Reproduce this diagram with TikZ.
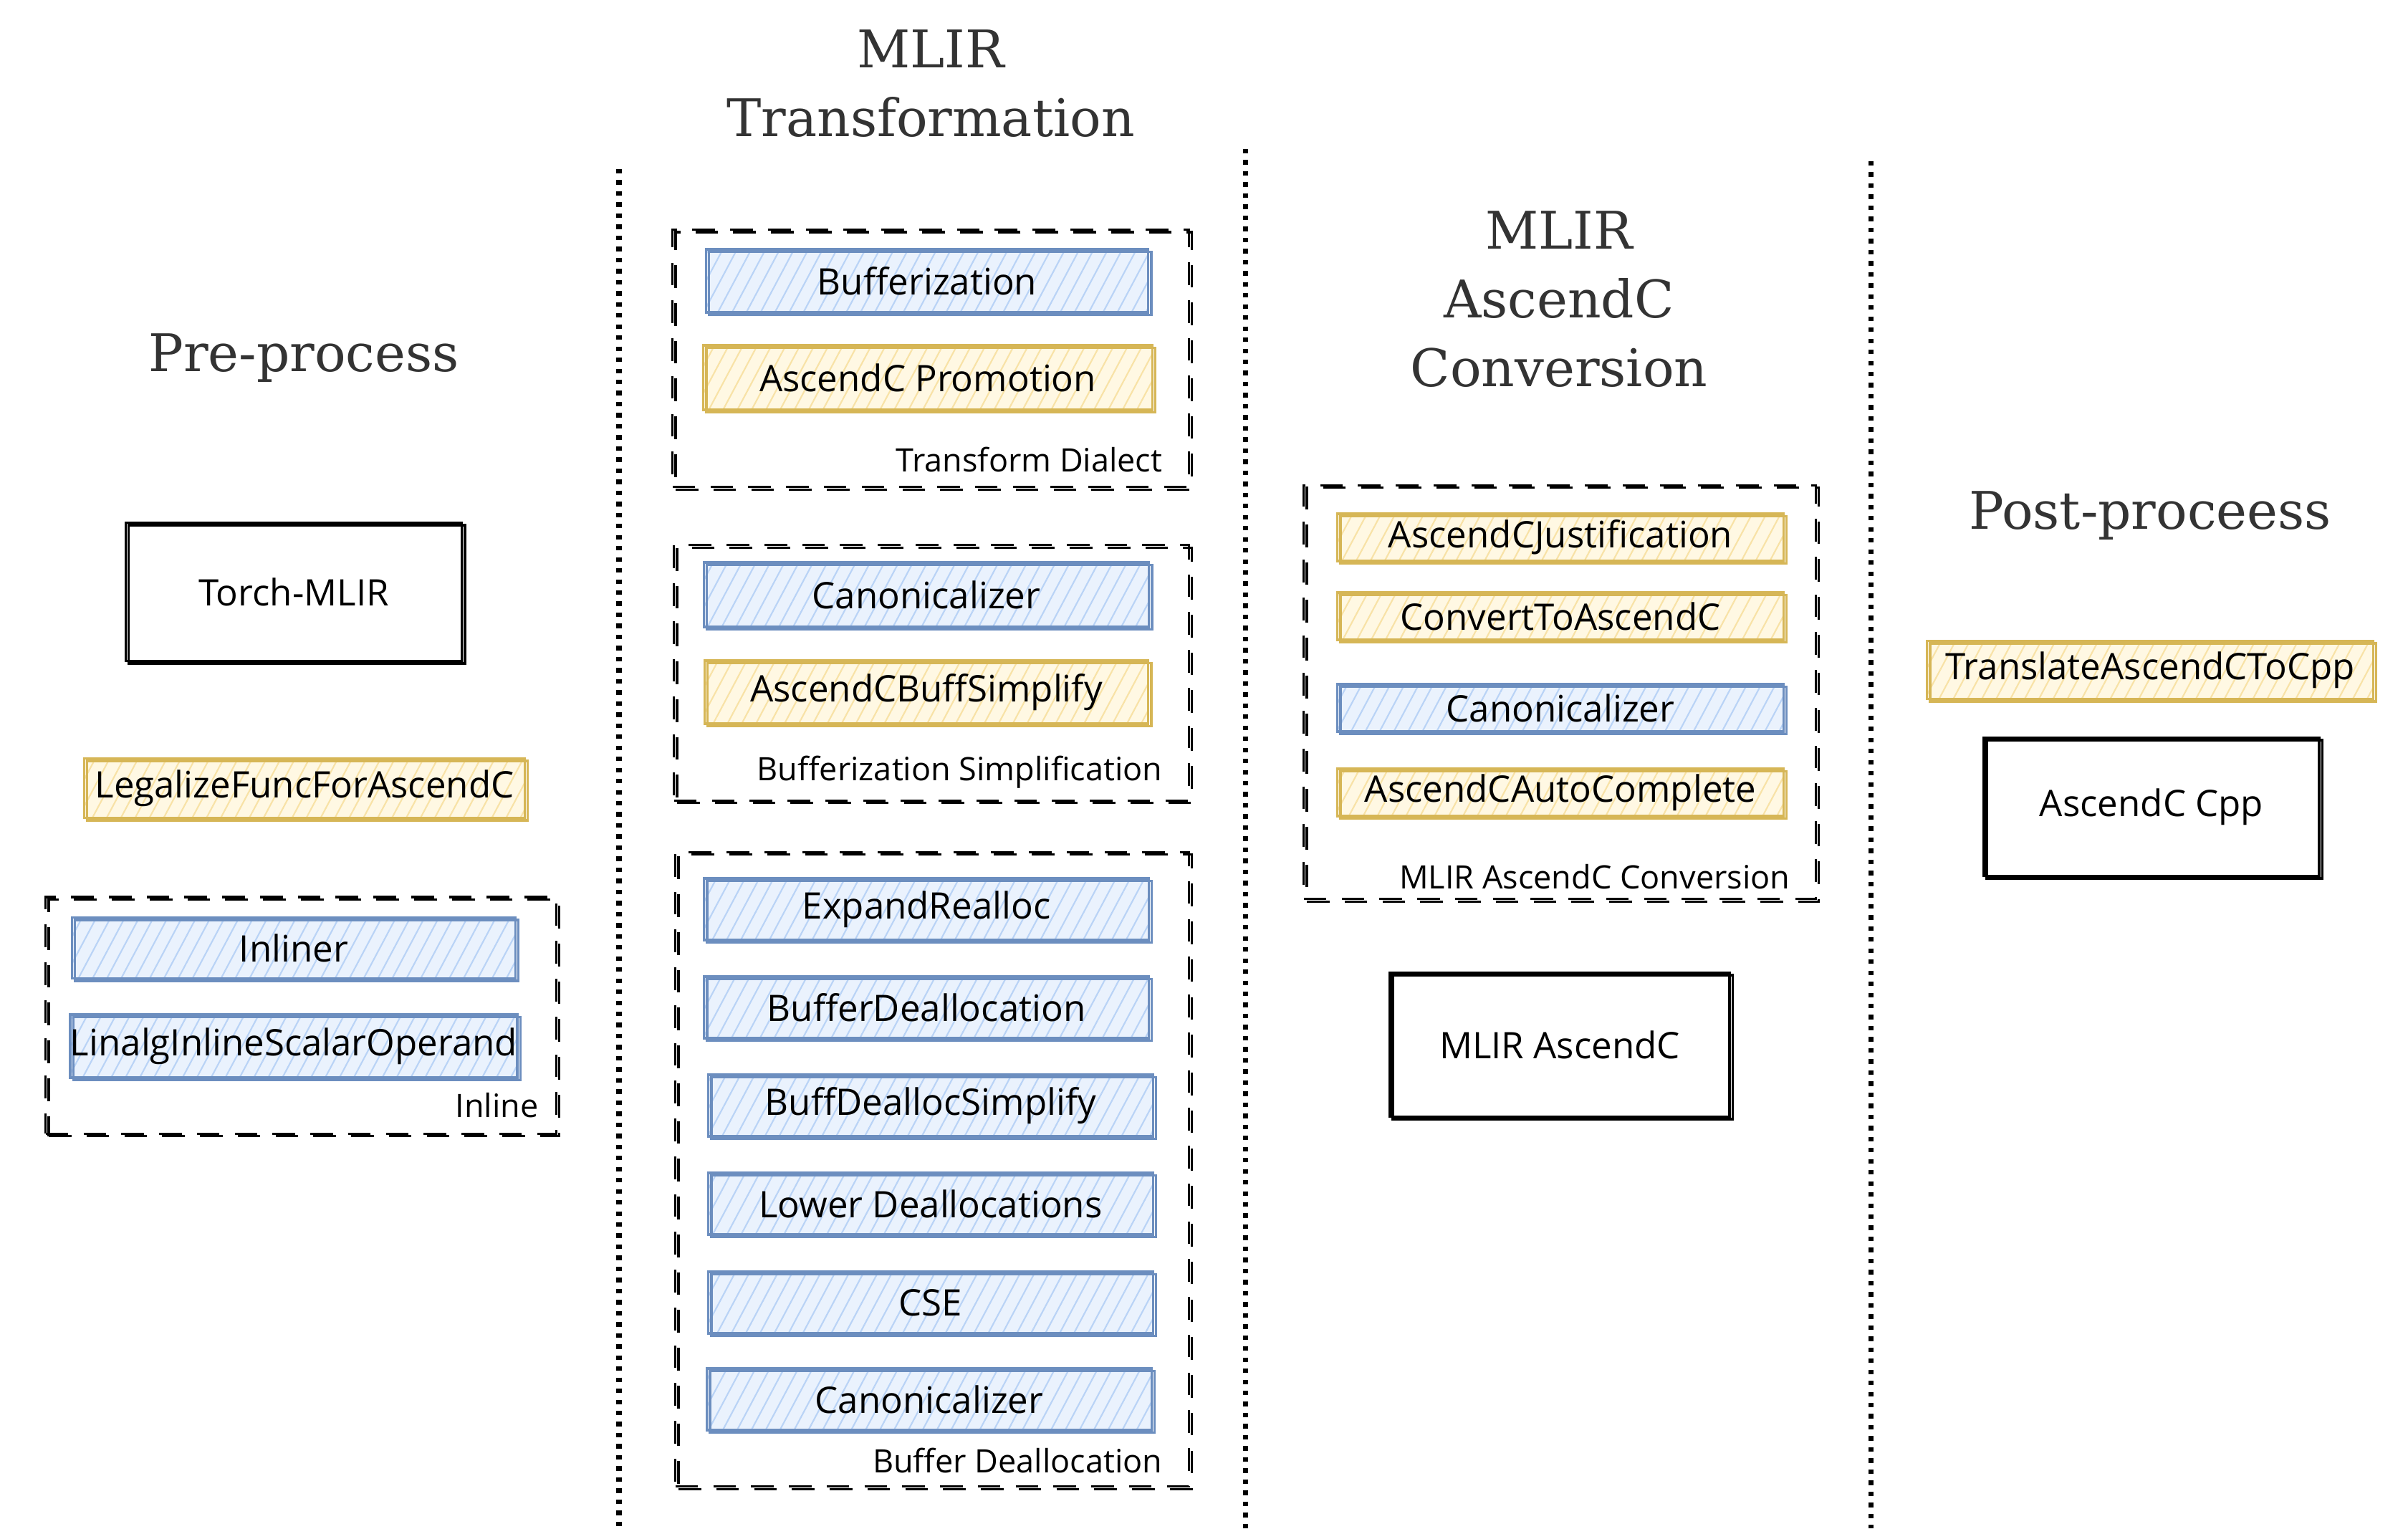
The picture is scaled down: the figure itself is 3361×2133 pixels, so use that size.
\documentclass[tikz,border=0pt]{standalone}
\usepackage{fontspec}
\setmainfont{DejaVu Serif}
\newfontfamily\passfont{Open Sans}
\usetikzlibrary{patterns.meta}
\definecolor{bstroke}{HTML}{6C8EBF}
\definecolor{bfill}{HTML}{EAF2FD}
\definecolor{bhatch}{HTML}{B9D3F6}
\definecolor{ystroke}{HTML}{D6B656}
\definecolor{yfill}{HTML}{FFF8E3}
\definecolor{yhatch}{HTML}{F8E2A6}
\definecolor{titlegray}{HTML}{333333}
\tikzset{
  sk/.style={postaction={draw,transform canvas={shift={(1.2pt,-1pt)}}}},
  passbase/.style={line width=0.9pt, inner sep=0pt, font=\passfont\fontsize{14.5}{16}\selectfont, sk},
  bluepass/.style={passbase, draw=bstroke, preaction={fill=bfill},
    pattern={Lines[angle=62,distance=5pt,line width=0.6pt]}, pattern color=bhatch},
  yellowpass/.style={passbase, draw=ystroke, preaction={fill=yfill},
    pattern={Lines[angle=62,distance=5pt,line width=0.6pt]}, pattern color=yhatch},
  plainbox/.style={draw=black, line width=1pt, inner sep=0pt, font=\passfont\fontsize{14.5}{16}\selectfont, sk},
  groupbox/.style={draw=black, line width=0.9pt, dash pattern=on 9pt off 6pt, inner sep=0pt, sk},
  grouplabel/.style={anchor=east, inner sep=0pt, font=\passfont\fontsize{12.8}{14}\selectfont},
  coltitle/.style={align=center, text=titlegray, font=\fontsize{20.6}{27.3}\selectfont},
  sep/.style={draw=black, line width=2pt, dash pattern=on 1.8pt off 2.6pt}
}
\begin{document}
\begin{tikzpicture}[x=0.01cm,y=-0.01cm]
\useasboundingbox (0,0) rectangle (3361,2133);

% column titles
\node[coltitle] (tpre) at (424,500) {Pre-process};
\node[coltitle] (ttrans) at (1299,117) {MLIR\\Transformation};
\node[coltitle] (tconv) at (2176,418) {MLIR\\AscendC\\Conversion};
\node[coltitle] (tpost) at (3001,720) {Post-proceess};

% separators
\coordinate (s1t) at (864,236);  \coordinate (s1b) at (864,2133);
\coordinate (s2t) at (1738,208); \coordinate (s2b) at (1738,2133);
\coordinate (s3t) at (2611,225); \coordinate (s3b) at (2611,2133);
\draw[sep] (s1t) -- (s1b);
\draw[sep] (s2t) -- (s2b);
\draw[sep] (s3t) -- (s3b);

% Pre-process
\node[plainbox, minimum width=4.69cm, minimum height=1.93cm] (torch) at (410,826) {Torch-MLIR};
\node[yellowpass, minimum width=6.15cm, minimum height=0.83cm] (legal) at (425,1100) {LegalizeFuncForAscendC};
\node[groupbox, minimum width=7.12cm, minimum height=3.30cm] (ginline) at (420,1417) {};
\node[bluepass, minimum width=6.19cm, minimum height=0.85cm] (inliner) at (410,1323) {Inliner};
\node[bluepass, minimum width=6.19cm, minimum height=0.88cm] (linalg) at (410,1460) {LinalgInlineScalarOperand};
\node[grouplabel] (linline) at (752,1543) {Inline};

% MLIR Transformation
\node[groupbox, minimum width=7.20cm, minimum height=3.59cm] (gtd) at (1299,500) {};
\node[bluepass, minimum width=6.17cm, minimum height=0.88cm] (bufz) at (1294,392) {Bufferization};
\node[yellowpass, minimum width=6.26cm, minimum height=0.90cm] (promo) at (1295,527) {AscendC Promotion};
\node[grouplabel] (ltd) at (1623,641) {Transform Dialect};

\node[groupbox, minimum width=7.18cm, minimum height=3.56cm] (gbs) at (1300,939) {};
\node[bluepass, minimum width=6.21cm, minimum height=0.90cm] (canon1) at (1293,830) {Canonicalizer};
\node[yellowpass, minimum width=6.19cm, minimum height=0.88cm] (bsimp) at (1293,966) {AscendCBuffSimplify};
\node[grouplabel] (lbs) at (1623,1078) {Bufferization Simplification};

\node[groupbox, minimum width=7.16cm, minimum height=8.85cm] (gbd) at (1301,1632) {};
\node[bluepass, minimum width=6.20cm, minimum height=0.86cm] (expand) at (1293,1269) {ExpandRealloc};
\node[bluepass, minimum width=6.20cm, minimum height=0.86cm] (bdealloc) at (1293,1406) {BufferDeallocation};
\node[bluepass, minimum width=6.20cm, minimum height=0.86cm] (bdsimp) at (1299,1543) {BuffDeallocSimplify};
\node[bluepass, minimum width=6.20cm, minimum height=0.86cm] (lower) at (1299,1680) {Lower Deallocations};
\node[bluepass, minimum width=6.20cm, minimum height=0.86cm] (cse) at (1299,1818) {CSE};
\node[bluepass, minimum width=6.20cm, minimum height=0.86cm] (canon2) at (1297,1953) {Canonicalizer};
\node[grouplabel] (lbd) at (1623,2038) {Buffer Deallocation};

% MLIR AscendC Conversion
\node[groupbox, minimum width=7.14cm, minimum height=5.77cm] (gconv) at (2177,966) {};
\node[yellowpass, minimum width=6.22cm, minimum height=0.66cm] (just) at (2178,750) {AscendCJustification};
\node[yellowpass, minimum width=6.22cm, minimum height=0.66cm] (convert) at (2178,860) {ConvertToAscendC};
\node[bluepass, minimum width=6.22cm, minimum height=0.66cm] (canon3) at (2178,988) {Canonicalizer};
\node[yellowpass, minimum width=6.22cm, minimum height=0.66cm] (auto) at (2178,1106) {AscendCAutoComplete};
\node[grouplabel] (lconv) at (2499,1224) {MLIR AscendC Conversion};
\node[plainbox, minimum width=4.74cm, minimum height=2.01cm] (mlirasc) at (2177,1458) {MLIR AscendC};

% Post-process
\node[yellowpass, minimum width=6.22cm, minimum height=0.81cm] (translate) at (3001,935) {TranslateAscendCToCpp};
\node[plainbox, minimum width=4.68cm, minimum height=1.93cm] (cpp) at (3003,1126) {AscendC Cpp};
\end{tikzpicture}
\end{document}
